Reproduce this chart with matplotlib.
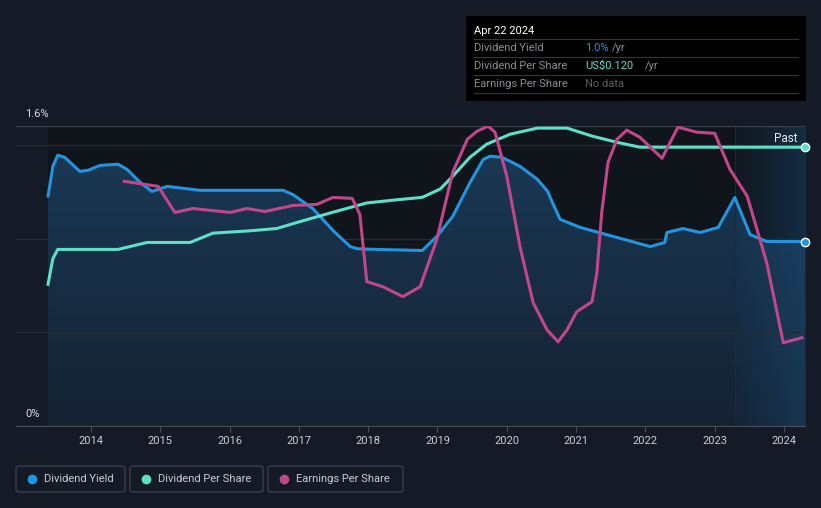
import numpy as np
import matplotlib
matplotlib.use("Agg")
import matplotlib.pyplot as plt
from matplotlib.patches import FancyBboxPatch, Rectangle
from matplotlib.path import Path
from matplotlib.patches import PathPatch

plt.rcParams['font.family'] = ['Roboto', 'DejaVu Sans']

# ---- data ----
yield_x = [2013.38, 2013.45, 2013.52, 2013.62, 2013.84, 2013.96, 2014.13, 2014.39, 2014.52, 2014.71,
           2014.88, 2015.10, 2015.57, 2016.77, 2016.91, 2017.2, 2017.5, 2017.74, 2017.85, 2018.21,
           2018.78, 2018.99, 2019.22, 2019.47, 2019.66, 2019.76, 2019.93, 2020.19, 2020.44, 2020.59,
           2020.67, 2020.77, 2021.06, 2022.07, 2022.28, 2022.31, 2022.54, 2022.79, 2023.05, 2023.29,
           2023.51, 2023.75, 2024.30]
yield_pct = [1.225, 1.385, 1.444, 1.433, 1.358, 1.364, 1.390, 1.396, 1.369, 1.299,
             1.251, 1.278, 1.257, 1.257, 1.235, 1.16, 1.04, 0.957, 0.945, 0.941,
             0.936, 1.011, 1.118, 1.299, 1.422, 1.439, 1.433, 1.385, 1.316, 1.251,
             1.182, 1.102, 1.059, 0.957, 0.979, 1.032, 1.053, 1.032, 1.059, 1.219,
             1.021, 0.984, 0.984]

dps_x = [2013.38, 2013.45, 2013.52, 2014.39, 2014.81, 2015.43, 2015.76, 2016.29, 2016.68, 2017.02,
         2017.49, 2017.98, 2018.46, 2018.78, 2019.04, 2019.22, 2019.47, 2019.71, 2020.05, 2020.44,
         2020.87, 2021.24, 2021.59, 2021.92, 2024.30]
dps_usd = [0.061, 0.072, 0.076, 0.076, 0.079, 0.079, 0.083, 0.084, 0.085, 0.088,
           0.092, 0.096, 0.0975, 0.0984, 0.102, 0.1075, 0.1157, 0.1213, 0.1256, 0.1282,
           0.1282, 0.1247, 0.1221, 0.120, 0.120]

eps_x = [2014.48, 2014.97, 2015.21, 2015.47, 2016.01, 2016.25, 2016.51, 2016.91, 2017.26, 2017.49,
         2017.77, 2017.88, 2017.98, 2018.21, 2018.50, 2018.75, 2018.99, 2019.22, 2019.43, 2019.57,
         2019.73, 2019.83, 2020.00, 2020.19, 2020.38, 2020.58, 2020.74, 2020.87, 2021.01, 2021.23,
         2021.30, 2021.37, 2021.46, 2021.59, 2021.73, 2021.92, 2022.24, 2022.47, 2022.74, 2023.00,
         2023.22, 2023.47, 2023.75, 2023.99, 2024.26]
eps_idx = [1.305, 1.278, 1.139, 1.160, 1.139, 1.160, 1.144, 1.176, 1.182, 1.219,
           1.214, 1.128, 0.770, 0.743, 0.690, 0.743, 0.995, 1.353, 1.529, 1.572,
           1.599, 1.567, 1.332, 0.957, 0.658, 0.513, 0.449, 0.513, 0.610, 0.663,
           0.818, 1.139, 1.406, 1.529, 1.578, 1.540, 1.428, 1.594, 1.567, 1.561,
           1.369, 1.225, 0.872, 0.444, 0.471]

years = list(range(2014, 2025))
past_start = 2023.29

BG = '#151b26'
DARK = '#10141b'
BLUE = '#2394df'
TEAL = '#5de0c8'
PINK = '#c2468a'

fig = plt.figure(figsize=(8.21, 5.08), dpi=100, facecolor=BG)
ax = fig.add_axes([16/821, 1-426/508, 789/821, 300/508])
ax.set_facecolor(BG)
x0, x1 = 2012.918, 2024.303
ax.set_xlim(x0, x1)
ax.set_ylim(0, 1.6)

# darker data region
ax.axvspan(yield_x[0], x1, color=DARK, zorder=0, lw=0)

# gradient fill below yield
grad = np.linspace(0, 1, 256).reshape(-1, 1)
c_top = np.array([0x1a, 0x3a, 0x58]) / 255
c_bot = np.array([0x15, 0x22, 0x32]) / 255
img = c_bot + (c_top - c_bot) * grad
img = img[::-1].reshape(256, 1, 3)
im = ax.imshow(img, extent=[x0, x1, 0, 1.6], aspect='auto', zorder=1, origin='upper')
verts = [(yield_x[0], 0)] + list(zip(yield_x, yield_pct)) + [(yield_x[-1], 0)]
poly = PathPatch(Path(verts), facecolor='none', edgecolor='none')
ax.add_patch(poly)
im.set_clip_path(poly)

# past region gradient
pg = np.zeros((1, 100, 4))
pg[..., 0] = 0x1c / 255
pg[..., 1] = 0x5a / 255
pg[..., 2] = 0x8a / 255
pg[..., 3] = np.linspace(0.05, 0.35, 100)
ax.imshow(pg, extent=[past_start, x1, 0, 1.6], aspect='auto', zorder=1.5)
ax.axvline(past_start, color='#1b2a3a', lw=0.8, zorder=1.6)

# grid
for g in [0.5, 1.0, 1.5]:
    ax.axhline(g, color='#262c36', lw=1, zorder=1.7)
ax.axhline(1.6, color='#3a404a', lw=1, zorder=1.7)

ax.set_xlim(x0, x1)
ax.set_ylim(0, 1.6)

# lines
ax.plot(yield_x, yield_pct, color=BLUE, lw=2.2, zorder=4, solid_joinstyle='round', solid_capstyle='round')
ax2 = ax.twinx()
ax2.set_ylim(0, 1.6 * 0.120 / 1.487)
ax2.plot(dps_x, dps_usd, color=TEAL, lw=2.2, zorder=3, solid_joinstyle='round')
ax3 = ax.twinx()
ax3.set_ylim(0, 1.6)
ax3.plot(eps_x, eps_idx, color=PINK, lw=2.2, zorder=3, solid_joinstyle='round')
for a in (ax2, ax3):
    a.set_xlim(x0, x1)
    a.axis('off')

ax.plot([yield_x[-1]], [yield_pct[-1]], 'o', ms=6, color=BLUE, mec='white', mew=1, zorder=6, clip_on=False)
ax2.plot([dps_x[-1]], [dps_usd[-1]], 'o', ms=6, color=TEAL, mec='white', mew=1, zorder=6, clip_on=False)

# axes styling
for s in ['top', 'right', 'left']:
    ax.spines[s].set_visible(False)
ax.spines['bottom'].set_color('#4a505a')
ax.set_yticks([])
ax.set_xticks(years)
ax.set_xticklabels([str(y) for y in years], color='#c8ccd2', fontsize=8)
ax.tick_params(axis='x', colors='#4a505a', length=4, labelcolor='#c8ccd2', pad=3)

fig.text(25/821, 1-114/508, '1.6%', color='#d8dce2', fontsize=8, va='center')
fig.text(25/821, 1-414/508, '0%', color='#d8dce2', fontsize=8, va='center')
fig.text(797/821, 1-138/508, 'Past', color='#e8eaee', fontsize=8.5, va='center', ha='right')

# tooltip box
fig.patches.append(Rectangle((466/821, 1-101/508), 340/821, 85/508, transform=fig.transFigure,
                             facecolor='#000000', edgecolor='none'))
fig.text(474/821, 1-31/508, 'Apr 22 2024', color='white', fontsize=8, va='center')
rows = [('Dividend Yield', '1.0%', BLUE), ('Dividend Per Share', 'US$0.120', TEAL), ('Earnings Per Share', 'No data', '#5a5f66')]
for i, (lab, val, col) in enumerate(rows):
    yc = 48 + i * 18
    fig.add_artist(plt.Line2D([474/821, 798/821], [1-(yc-9)/508]*2, color='#33373d', lw=0.8))
    fig.text(474/821, 1-yc/508, lab, color='#8a8f96', fontsize=8, va='center')
    t = fig.text(585/821, 1-yc/508, val, color=col, fontsize=8, va='center')
    if val != 'No data':
        w = {'1.0%': 24, 'US$0.120': 57}[val]
        fig.text((585 + w + 3)/821, 1-yc/508, '/yr', color='#8a8f96', fontsize=8, va='center')
fig.add_artist(plt.Line2D([474/821, 798/821], [1-93/508]*2, color='#33373d', lw=0.8))

# legend
items = [(16, 125, 'Dividend Yield', BLUE), (130, 263, 'Dividend Per Share', TEAL), (268, 403, 'Earnings Per Share', PINK)]
for xa, xb, lab, col in items:
    fig.patches.append(FancyBboxPatch((xa/821, 1-492/508), (xb-xa)/821, 26/508,
                                      boxstyle='round,pad=0,rounding_size=0.004', transform=fig.transFigure,
                                      facecolor='none', edgecolor='#3a404a', lw=1))
    fig.add_artist(plt.Line2D([(xa+16)/821], [1-479/508], marker='o', ms=7, color=col, mec='none'))
    fig.text((xa+28)/821, 1-479/508, lab, color='#c8ccd2', fontsize=8, va='center')

fig.savefig('out.png', dpi=100, facecolor=BG)
